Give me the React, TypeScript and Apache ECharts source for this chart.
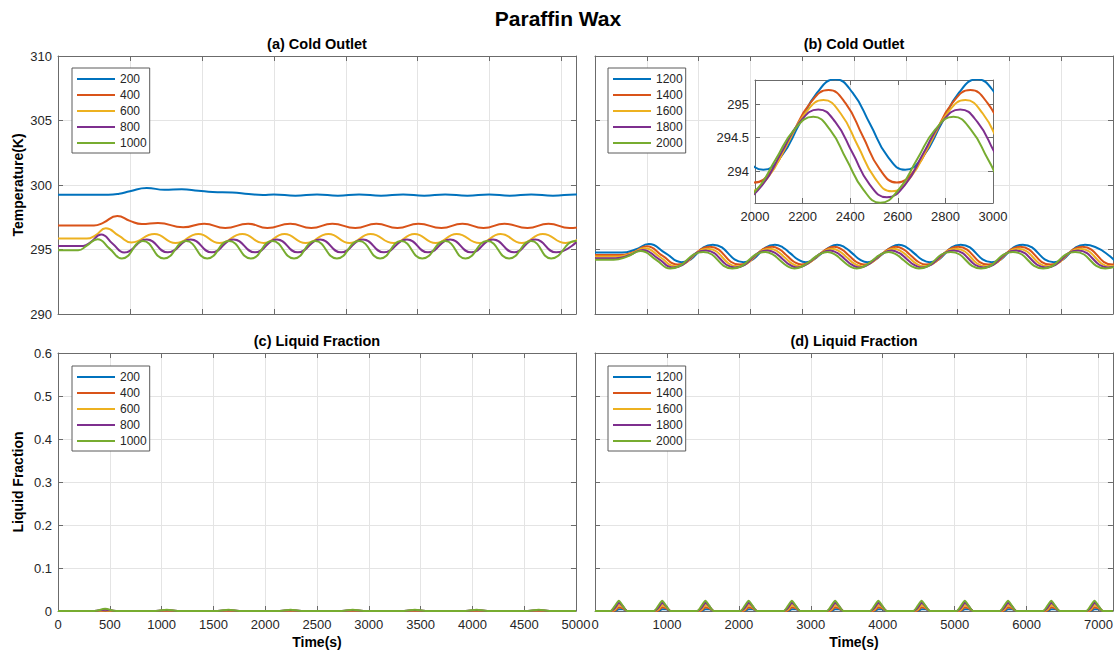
import React, { useEffect, useRef } from "react";
import * as echarts from "echarts";

const COLORS = ["#0072BD", "#D95319", "#EDB120", "#7E2F8E", "#77AC30"];
const namesLow = ["200", "400", "600", "800", "1000"];
const namesHigh = ["1200", "1400", "1600", "1800", "2000"];

const titleMain = "Paraffin Wax";
const panelTitles = ["(a) Cold Outlet", "(b) Cold Outlet", "(c) Liquid Fraction", "(d) Liquid Fraction"];
const yNameTemp = "Temperature(K)";
const yNameFrac = "Liquid Fraction";
const xNameTime = "Time(s)";

// axis ranges [min, max, interval]
const tempRange = [290, 310, 5];
const fracRange = [0, 0.6, 0.1];
const timeLong = [0, 7200, 1000];
const timeShort = [0, 5000, 500];
const insetTime = [2000, 3000, 200];
const insetTemp = [293.525, 295.36];

// (a) cold outlet temperature, [time s, K]
const a200 = [[0,299.24],[700,299.24],[850,299.32],[1000,299.52],[1233,299.77],[1480,299.63],[1720,299.67],[1950,299.56],[2150,299.46],[2420,299.42],[2650,299.3],[2850,299.22],[3000,299.27],[3300,299.17],[3600,299.27],[3890,299.17],[4185,299.27],[4490,299.17],[4797,299.27],[5090,299.17],[5382,299.27],[5690,299.17],[5993,299.27],[6280,299.17],[6578,299.27],[6880,299.17],[7190,299.27],[7480,299.17]];
const a400 = [[0,296.87],[500,296.87],[620,297.05],[825,297.6],[1000,297.22],[1165,296.97],[1390,297.06],[1740,296.72],[2031,297.0],[2324,296.66],[2643,297.0],[2909,296.66],[3228,297.0],[3520,296.66],[3813,297.0],[4132,296.66],[4425,297.0],[4717,296.66],[5010,297.0],[5329,296.66],[5621,297.0],[5914,296.66],[6206,297.0],[6525,296.66],[6818,297.0],[7110,296.66],[7410,297.0]];
const a600 = [[0,295.85],[400,295.85],[520,296.1],[665,296.65],[850,296.05],[1021,295.55],[1340,296.2],[1633,295.5],[1952,296.2],[2244,295.5],[2563,296.2],[2856,295.5],[3148,296.2],[3441,295.5],[3760,296.2],[4052,295.5],[4345,296.2],[4664,295.5],[4956,296.2],[5249,295.5],[5541,296.2],[5860,295.5],[6153,296.2],[6445,295.5],[6738,296.2],[7057,295.5],[7350,296.2]];
const a800 = [[0,295.28],[350,295.28],[460,295.6],[600,296.17],[760,295.45],[920,294.77],[1234,295.77],[1526,294.78],[1845,295.77],[2138,294.78],[2441,295.77],[2739,294.78],[3042,295.77],[3334,294.78],[3643,295.77],[3935,294.78],[4238,295.77],[4531,294.78],[4850,295.77],[5143,294.78],[5451,295.77],[5743,294.78],[6046,295.77],[6339,294.78],[6632,295.77],[6924,294.78],[7240,295.77]];
const a1000 = [[0,294.94],[280,294.94],[400,295.3],[550,295.8],[720,295.05],[888,294.3],[1181,295.65],[1473,294.3],[1782,295.65],[2074,294.3],[2377,295.65],[2680,294.3],[2978,295.65],[3281,294.3],[3574,295.65],[3877,294.3],[4185,295.65],[4478,294.3],[4770,295.65],[5063,294.3],[5382,295.65],[5664,294.3],[5967,295.65],[6270,294.3],[6578,295.65],[6855,294.3],[7190,295.65],[7450,294.3]];

// (b) cold outlet temperature, higher rates, [time s, K] (denser around 1700-3200, shown in the inset)
const b1200 = [[0,294.76],[260,294.76],[390,295.0],[520,295.42],[680,294.72],[835,294.02],[1137,295.37],[1435,294.02],[1737,295.37],[1812,295.17],[1886,294.7],[1961,294.22],[2035,294.02],[2110,294.22],[2186,294.7],[2261,295.17],[2337,295.37],[2410,295.17],[2484,294.7],[2557,294.22],[2631,294.02],[2706,294.22],[2782,294.7],[2857,295.17],[2933,295.37],[3007,295.17],[3082,294.7],[3156,294.22],[3230,294.02],[3530,295.37],[3830,294.02],[4130,295.37],[4430,294.02],[4730,295.37],[5030,294.02]];
const b1400 = [[0,294.57],[240,294.57],[370,294.8],[500,295.25],[650,294.52],[796,293.83],[1109,295.21],[1396,293.83],[1709,295.21],[1781,295.01],[1853,294.52],[1924,294.03],[1996,293.83],[2074,294.03],[2152,294.52],[2231,295.01],[2309,295.21],[2381,295.01],[2453,294.52],[2524,294.03],[2596,293.83],[2673,294.03],[2751,294.52],[2828,295.01],[2905,295.21],[2978,295.01],[3051,294.52],[3123,294.03],[3196,293.83],[3505,295.21],[3796,293.83],[4105,295.21],[4396,293.83],[4705,295.21],[4996,293.83],[5300,295.21]];
const b1600 = [[0,294.45],[220,294.45],[350,294.7],[480,295.1],[630,294.4],[775,293.7],[1088,295.06],[1375,293.7],[1688,295.06],[1760,294.86],[1832,294.38],[1903,293.9],[1975,293.7],[2053,293.9],[2132,294.38],[2210,294.86],[2288,295.06],[2360,294.86],[2432,294.38],[2503,293.9],[2575,293.7],[2652,293.9],[2730,294.38],[2807,294.86],[2884,295.06],[2957,294.86],[3030,294.38],[3102,293.9],[3175,293.7],[3484,295.06],[3775,293.7],[4084,295.06],[4375,293.7],[4684,295.06],[4975,293.7],[5284,295.06]];
const b1800 = [[0,294.33],[200,294.33],[330,294.55],[460,294.97],[610,294.3],[754,293.61],[1066,294.92],[1354,293.61],[1666,294.92],[1738,294.73],[1810,294.27],[1882,293.8],[1954,293.61],[2032,293.8],[2110,294.27],[2188,294.73],[2266,294.92],[2338,294.73],[2410,294.27],[2482,293.8],[2554,293.61],[2631,293.8],[2708,294.27],[2785,294.73],[2862,294.92],[2935,294.73],[3008,294.27],[3081,293.8],[3154,293.61],[3462,294.92],[3754,293.61],[4062,294.92],[4354,293.61],[4662,294.92],[4954,293.61],[5262,294.92]];
const b2000 = [[0,294.21],[180,294.21],[310,294.45],[440,294.88],[590,294.2],[726,293.53],[1045,294.81],[1326,293.53],[1645,294.81],[1715,294.62],[1785,294.17],[1856,293.72],[1926,293.53],[2006,293.72],[2086,294.17],[2165,294.62],[2245,294.81],[2315,294.62],[2385,294.17],[2456,293.72],[2526,293.53],[2603,293.72],[2680,294.17],[2757,294.62],[2834,294.81],[2907,294.62],[2980,294.17],[3053,293.72],[3126,293.53],[3434,294.81],[3726,293.53],[4034,294.81],[4326,293.53],[4634,294.81],[4926,293.53],[5234,294.81]];

// (c) liquid fraction, low rates: shared time grid and values
const timesC = [0, 350,455,560, 945,1050,1155, 1540,1645,1750, 2140,2245,2350, 2740,2845,2950, 3340,3445,3550, 3935,4040,4145, 4535,4640,4745, 5000];
const c200 = [0, 0,0,0, 0,0,0, 0,0,0, 0,0,0, 0,0,0, 0,0,0, 0,0,0, 0,0,0, 0];
const c400 = [0, 0,0.0005,0, 0,0,0, 0,0,0, 0,0,0, 0,0,0, 0,0,0, 0,0,0, 0,0,0, 0];
const c600 = [0, 0,0.0015,0, 0,0.001,0, 0,0.001,0, 0,0.001,0, 0,0.001,0, 0,0.001,0, 0,0.001,0, 0,0.001,0, 0];
const c800 = [0, 0,0.003,0, 0,0.002,0, 0,0.002,0, 0,0.002,0, 0,0.002,0, 0,0.002,0, 0,0.002,0, 0,0.002,0, 0];
const c1000 = [0, 0,0.005,0, 0,0.003,0, 0,0.003,0, 0,0.003,0, 0,0.003,0, 0,0.003,0, 0,0.003,0, 0,0.003,0, 0];

// (d) liquid fraction, high rates: shared time grid and values
const timesD = [0, 217,277,332,387,447, 819,879,934,989,1049, 1420,1480,1535,1590,1650, 2021,2081,2136,2191,2251, 2622,2682,2737,2792,2852, 3223,3283,3338,3393,3453, 3824,3884,3939,3994,4054, 4425,4485,4540,4595,4655, 5026,5086,5141,5196,5256, 5627,5687,5742,5797,5857, 6228,6288,6343,6398,6458, 6829,6889,6944,6999,7059, 7200];
const d1200 = [0, 0,0,0.004,0.004,0, 0,0,0.004,0.004,0, 0,0,0.004,0.004,0, 0,0,0.004,0.004,0, 0,0,0.004,0.004,0, 0,0,0.004,0.004,0, 0,0,0.004,0.004,0, 0,0,0.004,0.004,0, 0,0,0.004,0.004,0, 0,0,0.004,0.004,0, 0,0,0.004,0.004,0, 0,0,0.004,0.004,0, 0];
const d1400 = [0, 0,0.001,0.009,0.006,0, 0,0.001,0.009,0.006,0, 0,0.001,0.009,0.006,0, 0,0.001,0.009,0.006,0, 0,0.001,0.009,0.006,0, 0,0.001,0.009,0.006,0, 0,0.001,0.009,0.006,0, 0,0.001,0.009,0.006,0, 0,0.001,0.009,0.006,0, 0,0.001,0.009,0.006,0, 0,0.001,0.009,0.006,0, 0,0.001,0.009,0.006,0, 0];
const d1600 = [0, 0,0.003,0.014,0.009,0, 0,0.003,0.014,0.009,0, 0,0.003,0.014,0.009,0, 0,0.003,0.014,0.009,0, 0,0.003,0.014,0.009,0, 0,0.003,0.014,0.009,0, 0,0.003,0.014,0.009,0, 0,0.003,0.014,0.009,0, 0,0.003,0.014,0.009,0, 0,0.003,0.014,0.009,0, 0,0.003,0.014,0.009,0, 0,0.003,0.014,0.009,0, 0];
const d1800 = [0, 0,0.007,0.019,0.011,0, 0,0.007,0.019,0.011,0, 0,0.007,0.019,0.011,0, 0,0.007,0.019,0.011,0, 0,0.007,0.019,0.011,0, 0,0.007,0.019,0.011,0, 0,0.007,0.019,0.011,0, 0,0.007,0.019,0.011,0, 0,0.007,0.019,0.011,0, 0,0.007,0.019,0.011,0, 0,0.007,0.019,0.011,0, 0,0.007,0.019,0.011,0, 0];
const d2000 = [0, 0,0.012,0.024,0.012,0, 0,0.012,0.024,0.012,0, 0,0.012,0.024,0.012,0, 0,0.012,0.024,0.012,0, 0,0.012,0.024,0.012,0, 0,0.012,0.024,0.012,0, 0,0.012,0.024,0.012,0, 0,0.012,0.024,0.012,0, 0,0.012,0.024,0.012,0, 0,0.012,0.024,0.012,0, 0,0.012,0.024,0.012,0, 0,0.012,0.024,0.012,0, 0];

const FONT = '"Liberation Sans", Arial, Helvetica, sans-serif';
const AXIS_COLOR = "#6b6b6b";
const GRID_COLOR = "#e4e4e4";
const LABEL_COLOR = "#262626";

const plainNum = (v: number) => String(Number(v.toFixed(6)));

function xAxes(gi: number, range: number[], labels: boolean, name?: string, extra: any = {}, z?: number) {
  const common: any = {
    type: "value", gridIndex: gi, min: range[0], max: range[1],
    axisLine: { show: true, onZero: false, lineStyle: { color: AXIS_COLOR, width: 1 } },
    axisTick: { show: true, inside: true, length: 5, lineStyle: { color: AXIS_COLOR } },
  };
  if (range[2] !== undefined) common.interval = range[2];
  if (z !== undefined) common.z = z;
  return [
    {
      ...common, position: "bottom",
      axisLabel: { show: labels, fontSize: 13, color: LABEL_COLOR, margin: 7, fontFamily: FONT, formatter: plainNum, ...extra },
      splitLine: { show: true, lineStyle: { color: GRID_COLOR, width: 1 } },
      name: name || "", nameLocation: "middle", nameGap: 24,
      nameTextStyle: { fontSize: 14, fontWeight: "bold", color: "#000", fontFamily: FONT },
    },
    { ...common, position: "top", axisLabel: { show: false }, splitLine: { show: false } },
  ];
}

function yAxes(gi: number, range: number[], labels: boolean, name?: string, extra: any = {}, opts: any = {}) {
  const common: any = {
    type: "value", gridIndex: gi, min: range[0], max: range[1],
    axisLine: { show: true, onZero: false, lineStyle: { color: AXIS_COLOR, width: 1 } },
    axisTick: { show: true, inside: true, length: 5, lineStyle: { color: AXIS_COLOR } },
    ...opts,
  };
  if (range[2] !== undefined) common.interval = range[2];
  return [
    {
      ...common, position: "left",
      axisLabel: { show: labels, fontSize: 13, color: LABEL_COLOR, margin: 6, fontFamily: FONT, formatter: plainNum, ...extra },
      splitLine: { show: true, lineStyle: { color: GRID_COLOR, width: 1 } },
      name: name || "", nameLocation: "middle", nameGap: 33,
      nameTextStyle: { fontSize: 14, fontWeight: "bold", color: "#000", fontFamily: FONT },
    },
    { ...common, position: "right", axisLabel: { show: false }, splitLine: { show: false } },
  ];
}

function line(name: string, data: number[][], color: string, g: number, smooth: any, z = 2) {
  return {
    type: "line", name, data, xAxisIndex: 2 * g, yAxisIndex: 2 * g,
    showSymbol: false, symbol: "none", smooth, clip: true, silent: true, z,
    lineStyle: { width: 2, color }, itemStyle: { color },
    emphasis: { disabled: true },
  };
}

function legendAt(left: number, top: number, data: string[]) {
  return {
    show: true, orient: "vertical", left, top, data, icon: "rect",
    itemWidth: 38, itemHeight: 2, itemGap: 2, padding: [4, 3, 3, 5],
    borderColor: "#5a5a5a", borderWidth: 1, backgroundColor: "#fff",
    selectedMode: false, z: 20,
    textStyle: { fontSize: 12, color: LABEL_COLOR, lineHeight: 14, fontFamily: FONT },
  };
}

function buildOption() {
  const lowTemp = [a200, a400, a600, a800, a1000];
  const highTemp = [b1200, b1400, b1600, b1800, b2000];
  const lowFrac = [c200, c400, c600, c800, c1000];
  const highFrac = [d1200, d1400, d1600, d1800, d2000];

  const insetLabel = {
    showMinLabel: false, showMaxLabel: false,
    formatter: (v: number) => (Math.abs(v * 2 - Math.round(v * 2)) < 1e-6 ? plainNum(v) : ""),
  };

  const xAxis = [
    ...xAxes(0, timeLong, false),
    ...xAxes(1, timeShort, false),
    ...xAxes(2, timeShort, true, xNameTime),
    ...xAxes(3, timeLong, true, xNameTime, { showMaxLabel: false }),
    ...xAxes(4, insetTime, true, undefined, {}, 6),
  ];
  const yAxis = [
    ...yAxes(0, tempRange, true, yNameTemp),
    ...yAxes(1, tempRange, false),
    ...yAxes(2, fracRange, true, yNameFrac),
    ...yAxes(3, fracRange, false),
    ...yAxes(4, insetTemp, true, undefined, insetLabel, { splitNumber: 3, z: 6 }),
  ];

  const series: any[] = [
    ...lowTemp.map((d, i) => line(namesLow[i], d, COLORS[i], 0, 0.5)),
    ...highTemp.map((d, i) => line(namesHigh[i], d, COLORS[i], 1, 0.5)),
    ...lowFrac.map((v, i) => line(namesLow[i], timesC.map((t, k) => [t, v[k]]), COLORS[i], 2, 0.3)),
    ...highFrac.map((v, i) => line(namesHigh[i], timesD.map((t, k) => [t, v[k]]), COLORS[i], 3, 0.2)),
    ...highTemp.map((d, i) => line(namesHigh[i], d, COLORS[i], 4, 0.5, 8)),
  ];

  const titleFont = { fontFamily: FONT, fontWeight: "bold", fill: "#000", align: "center", verticalAlign: "middle" };
  const graphic = [
    { type: "text", x: 558, y: 18, z: 30, style: { ...titleFont, text: titleMain, fontSize: 21 } },
    { type: "text", x: 317, y: 44, z: 30, style: { ...titleFont, text: panelTitles[0], fontSize: 14.5 } },
    { type: "text", x: 854, y: 44, z: 30, style: { ...titleFont, text: panelTitles[1], fontSize: 14.5 } },
    { type: "text", x: 317, y: 341, z: 30, style: { ...titleFont, text: panelTitles[2], fontSize: 14.5 } },
    { type: "text", x: 854, y: 341, z: 30, style: { ...titleFont, text: panelTitles[3], fontSize: 14.5 } },
  ];

  return {
    animation: false,
    backgroundColor: "#fff",
    textStyle: { fontFamily: FONT },
    grid: [
      { left: 58, top: 56, width: 518, height: 258 },
      { left: 595, top: 56, width: 518, height: 258 },
      { left: 58, top: 353, width: 518, height: 258 },
      { left: 595, top: 353, width: 518, height: 258 },
      { left: 755, top: 80, width: 238, height: 123, show: true, backgroundColor: "#fff", borderWidth: 0, z: 5 },
    ],
    xAxis,
    yAxis,
    legend: [
      legendAt(72, 68, namesLow),
      legendAt(608, 68, namesHigh),
      legendAt(72, 366, namesLow),
      legendAt(608, 366, namesHigh),
    ],
    graphic,
    series,
  };
}

export default function App() {
  const ref = useRef<HTMLDivElement>(null);
  useEffect(() => {
    const chart = echarts.init(ref.current as HTMLDivElement, null, { renderer: "svg" });
    chart.setOption(buildOption() as any);
    return () => chart.dispose();
  }, []);
  return (
    <div
      ref={ref}
      style={{ position: "fixed", left: 0, top: 0, width: 1116, height: 653, background: "#fff" }}
    />
  );
}
